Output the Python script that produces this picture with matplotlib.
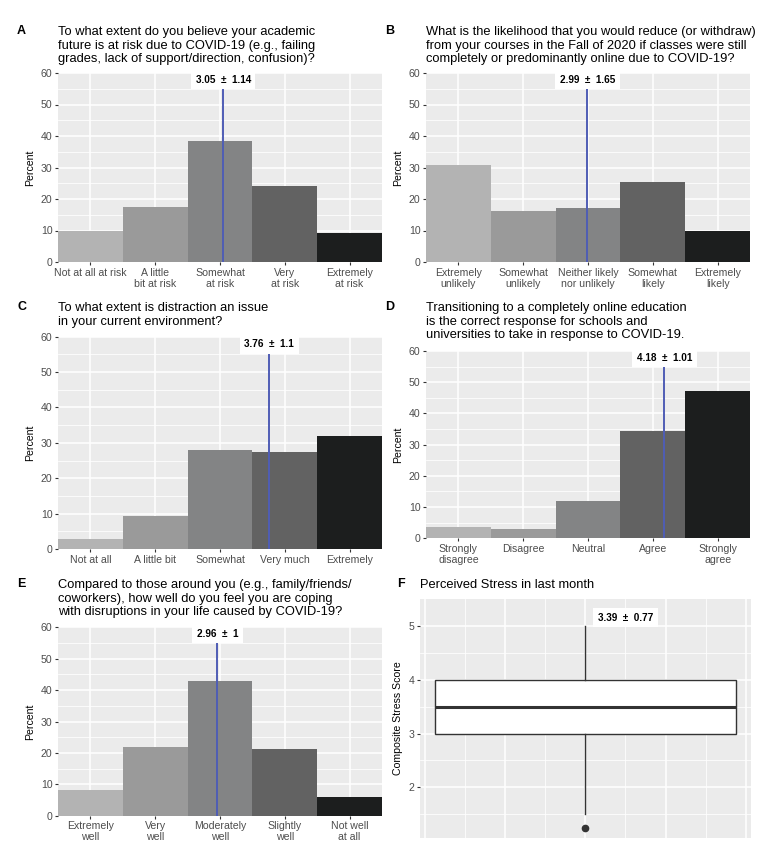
import matplotlib
matplotlib.use("Agg")
import matplotlib.pyplot as plt
from matplotlib.ticker import MultipleLocator
import numpy as np

plt.rcParams['font.family'] = ['Liberation Sans', 'DejaVu Sans']

# ---------------- data ----------------
title_a = "To what extent do you believe your academic\nfuture is at risk due to COVID-19 (e.g., failing\ngrades, lack of support/direction, confusion)?"
cats_a = ["Not at all at risk", "A little\nbit at risk", "Somewhat\nat risk", "Very\nat risk", "Extremely\nat risk"]
pct_a = [10.0, 17.6, 38.5, 24.2, 9.3]
mean_a, sd_a = 3.05, 1.14

title_b = "What is the likelihood that you would reduce (or withdraw)\nfrom your courses in the Fall of 2020 if classes were still\ncompletely or predominantly online due to COVID-19?"
cats_b = ["Extremely\nunlikely", "Somewhat\nunlikely", "Neither likely\nnor unlikely", "Somewhat\nlikely", "Extremely\nlikely"]
pct_b = [30.7, 16.3, 17.1, 25.4, 10.0]
mean_b, sd_b = 2.99, 1.65

title_c = "To what extent is distraction an issue\nin your current environment?"
cats_c = ["Not at all", "A little bit", "Somewhat", "Very much", "Extremely"]
pct_c = [2.8, 9.4, 27.9, 27.5, 32.0]
mean_c, sd_c = 3.76, 1.1

title_d = "Transitioning to a completely online education\nis the correct response for schools and\nuniversities to take in response to COVID-19."
cats_d = ["Strongly\ndisagree", "Disagree", "Neutral", "Agree", "Strongly\nagree"]
pct_d = [3.6, 3.0, 11.9, 34.3, 47.2]
mean_d, sd_d = 4.18, 1.01

title_e = "Compared to those around you (e.g., family/friends/\ncoworkers), how well do you feel you are coping\nwith disruptions in your life caused by COVID-19?"
cats_e = ["Extremely\nwell", "Very\nwell", "Moderately\nwell", "Slightly\nwell", "Not well\nat all"]
pct_e = [8.1, 21.8, 42.8, 21.4, 6.1]
mean_e, sd_e = 2.96, 1

title_f = "Perceived Stress in last month"
stress_q1, stress_median, stress_q3 = 3.0, 3.5, 4.0
stress_whislo, stress_whishi = 1.5, 5.0
stress_outliers = [1.25]
mean_f, sd_f = 3.39, 0.77

bar_colors = ["#B3B3B3", "#9A9A9A", "#838485", "#626262", "#1C1E1E"]
line_color = "#4F5DB5"
panel_bg = "#EBEBEB"
tick_color = "#4D4D4D"

W, H = 767, 852
fig = plt.figure(figsize=(W / 100, H / 100), dpi=100)


def add_ax(x0, y0, x1, y1):
    return fig.add_axes([x0 / W, 1 - y1 / H, (x1 - x0) / W, (y1 - y0) / H])


def style(ax):
    ax.set_facecolor(panel_bg)
    for s in ax.spines.values():
        s.set_visible(False)
    ax.grid(True, which='major', color='white', linewidth=1.1)
    ax.grid(True, which='minor', color='white', linewidth=0.55)
    ax.set_axisbelow(True)
    ax.tick_params(which='major', length=2.5, width=0.8, color='#333333',
                   labelcolor=tick_color, labelsize=7.6, pad=1.5)
    ax.tick_params(which='minor', length=0)


def fmt(v):
    return ("%.2f" % v).rstrip('0').rstrip('.')


def bar_panel(box, letter, title, cats, pct, mean, sd, title_top):
    ax = add_ax(*box)
    style(ax)
    x = np.arange(1, len(cats) + 1)
    ax.bar(x, pct, width=1.0, color=bar_colors, zorder=2)
    ax.set_xlim(0.5, len(cats) + 0.5)
    ax.set_ylim(0, 60)
    ax.set_xticks(x)
    ax.set_xticklabels(cats, linespacing=1.12)
    ax.yaxis.set_major_locator(MultipleLocator(10))
    ax.yaxis.set_minor_locator(MultipleLocator(5))
    ax.set_ylabel("Percent", fontsize=7.6, color='black', labelpad=4)
    ax.vlines(mean, 0, 56, color=line_color, linewidth=1.4, zorder=3)
    ax.text(mean, 57.9, f"{fmt(mean)}  \u00b1  {fmt(sd)}", ha='center', va='center',
            fontsize=7.2, fontweight='bold', zorder=4,
            bbox=dict(boxstyle='square,pad=0.45', facecolor='white', edgecolor='none'))
    fig.text(box[0] / W, 1 - title_top / H, title, ha='left', va='top', fontsize=9.3,
             linespacing=1.17)
    fig.text((box[0] - 41) / W, 1 - (title_top - 1) / H, letter, ha='left', va='top',
             fontsize=9, fontweight='bold')
    return ax


bar_panel((58, 73, 382, 262), "A", title_a, cats_a, pct_a, mean_a, sd_a, 26)
bar_panel((426, 73, 750, 262), "B", title_b, cats_b, pct_b, mean_b, sd_b, 26)
bar_panel((58, 336.7, 382, 549), "C", title_c, cats_c, pct_c, mean_c, sd_c, 302)
bar_panel((426, 351, 750, 538.3), "D", title_d, cats_d, pct_d, mean_d, sd_d, 302)
bar_panel((58, 627.3, 382, 815.7), "E", title_e, cats_e, pct_e, mean_e, sd_e, 579)

# ---------------- panel F: boxplot ----------------
axf = add_ax(420, 599, 750.7, 838)
style(axf)
stats = [dict(med=stress_median, q1=stress_q1, q3=stress_q3,
              whislo=stress_whislo, whishi=stress_whishi, fliers=stress_outliers)]
axf.bxp(stats, positions=[0], widths=[0.75], patch_artist=True, showcaps=False,
        boxprops=dict(facecolor='white', edgecolor='#333333', linewidth=1.0),
        medianprops=dict(color='#333333', linewidth=2.2),
        whiskerprops=dict(color='#333333', linewidth=1.0),
        flierprops=dict(marker='o', markerfacecolor='#333333', markeredgecolor='#333333',
                        markersize=4.5), zorder=3)
axf.set_xlim(-0.4125, 0.4125)
axf.set_ylim(1.06, 5.5)
axf.set_xticks([-0.4, -0.2, 0, 0.2, 0.4])
axf.set_xticks([-0.3, -0.1, 0.1, 0.3], minor=True)
axf.set_xticklabels([])
axf.tick_params(axis='x', which='both', length=0)
axf.set_yticks([2, 3, 4, 5])
axf.set_yticks([1.5, 2.5, 3.5, 4.5], minor=True)
axf.set_ylabel("Composite Stress Score", fontsize=7.6, color='black', labelpad=4)
axf.text(0.1, 5.15, f"{fmt(mean_f)}  \u00b1  {fmt(sd_f)}", ha='center', va='center',
         fontsize=7.2, fontweight='bold', zorder=4,
         bbox=dict(boxstyle='square,pad=0.45', facecolor='white', edgecolor='none'))
fig.text(420.5 / W, 1 - 579 / H, title_f, ha='left', va='top', fontsize=9.3)
fig.text(397 / W, 1 - 578 / H, "F", ha='left', va='top', fontsize=9, fontweight='bold')

fig.savefig("out.png", dpi=100, facecolor='white')
